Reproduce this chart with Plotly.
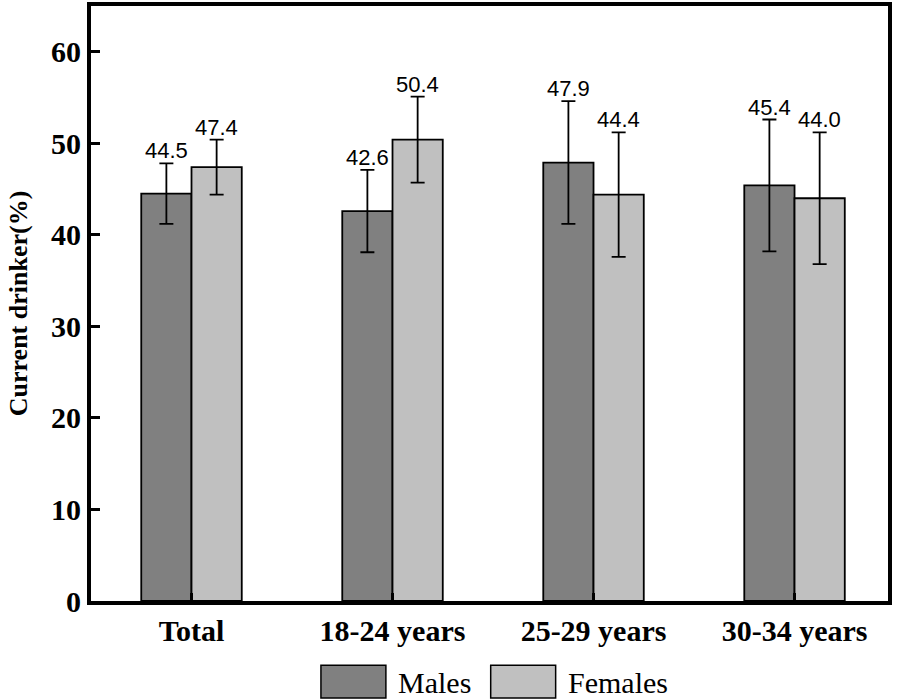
import plotly.graph_objects as go

categories = ["Total", "18-24 years", "25-29 years", "30-34 years"]
males = [44.5, 42.6, 47.9, 45.4]
females = [47.4, 50.4, 44.4, 44.0]
males_err = [3.3, 4.5, 6.7, 7.2]
females_err = [3.0, 4.7, 6.8, 7.2]
y_ticks = [0, 10, 20, 30, 40, 50, 60]
series_names = ["Males", "Females"]
colors = ["#808080", "#c0c0c0"]

fig = go.Figure()
for name, vals, errs, col in [(series_names[0], males, males_err, colors[0]),
                              (series_names[1], females, females_err, colors[1])]:
    fig.add_trace(go.Bar(
        x=categories, y=vals, name=name, offsetgroup=name,
        marker=dict(color=col, line=dict(color="black", width=1.8)),
        error_y=dict(type="data", array=errs, color="black", thickness=1.8, width=7),
        showlegend=False,
    ))

# value labels above error bars
for i, cat in enumerate(categories):
    for j, (vals, errs) in enumerate([(males, males_err), (females, females_err)]):
        fig.add_annotation(
            x=cat, y=vals[i] + errs[i], text=f"{vals[i]:.1f}", showarrow=False,
            xshift=(-25 if j == 0 else 25), yanchor="bottom", yshift=-2,
            font=dict(family="Liberation Sans, Arial", size=22, color="black"),
        )

# custom legend
legend_items = [(series_names[0], colors[0], 0.2885), (series_names[1], colors[1], 0.5015)]
for name, col, x0 in legend_items:
    fig.add_shape(type="rect", xref="paper", yref="paper",
                  x0=x0, x1=x0 + 0.0815, y0=-0.163, y1=-0.108,
                  fillcolor=col, line=dict(color="black", width=1.5))
    fig.add_annotation(xref="paper", yref="paper", x=x0 + 0.094, y=-0.137,
                       text=name, showarrow=False, xanchor="left", yanchor="middle",
                       font=dict(family="Liberation Serif, Times New Roman", size=30, color="black"))

fig.update_layout(
    width=897, height=699,
    margin=dict(l=91, r=9, t=2, b=98),
    plot_bgcolor="white", paper_bgcolor="white",
    barmode="group", bargap=0.5, bargroupgap=0,
    font=dict(family="Liberation Serif, Times New Roman", color="black"),
)
fig.update_xaxes(
    showline=True, linecolor="black", linewidth=4, mirror=True,
    ticks="inside", ticklen=8, tickwidth=3, tickcolor="black",
    tickfont=dict(family="Liberation Serif, Times New Roman", size=30, color="black", weight="bold"),
    range=[-0.5, 3.465], showgrid=False,
)
fig.update_yaxes(
    range=[0, 65.0], tickvals=y_ticks,
    showline=True, linecolor="black", linewidth=4, mirror=True,
    ticks="inside", ticklen=9, tickwidth=3, tickcolor="black",
    tickfont=dict(family="Liberation Serif, Times New Roman", size=30, color="black", weight="bold"),
    showgrid=False, zeroline=False,
    title=dict(text="Current drinker(%)", standoff=17,
               font=dict(family="Liberation Serif, Times New Roman", size=26, color="black", weight="bold")),
)

fig.write_html("out.html", config={"displayModeBar": False},
               post_script="document.body.style.margin='0';document.body.style.overflow='hidden';")
